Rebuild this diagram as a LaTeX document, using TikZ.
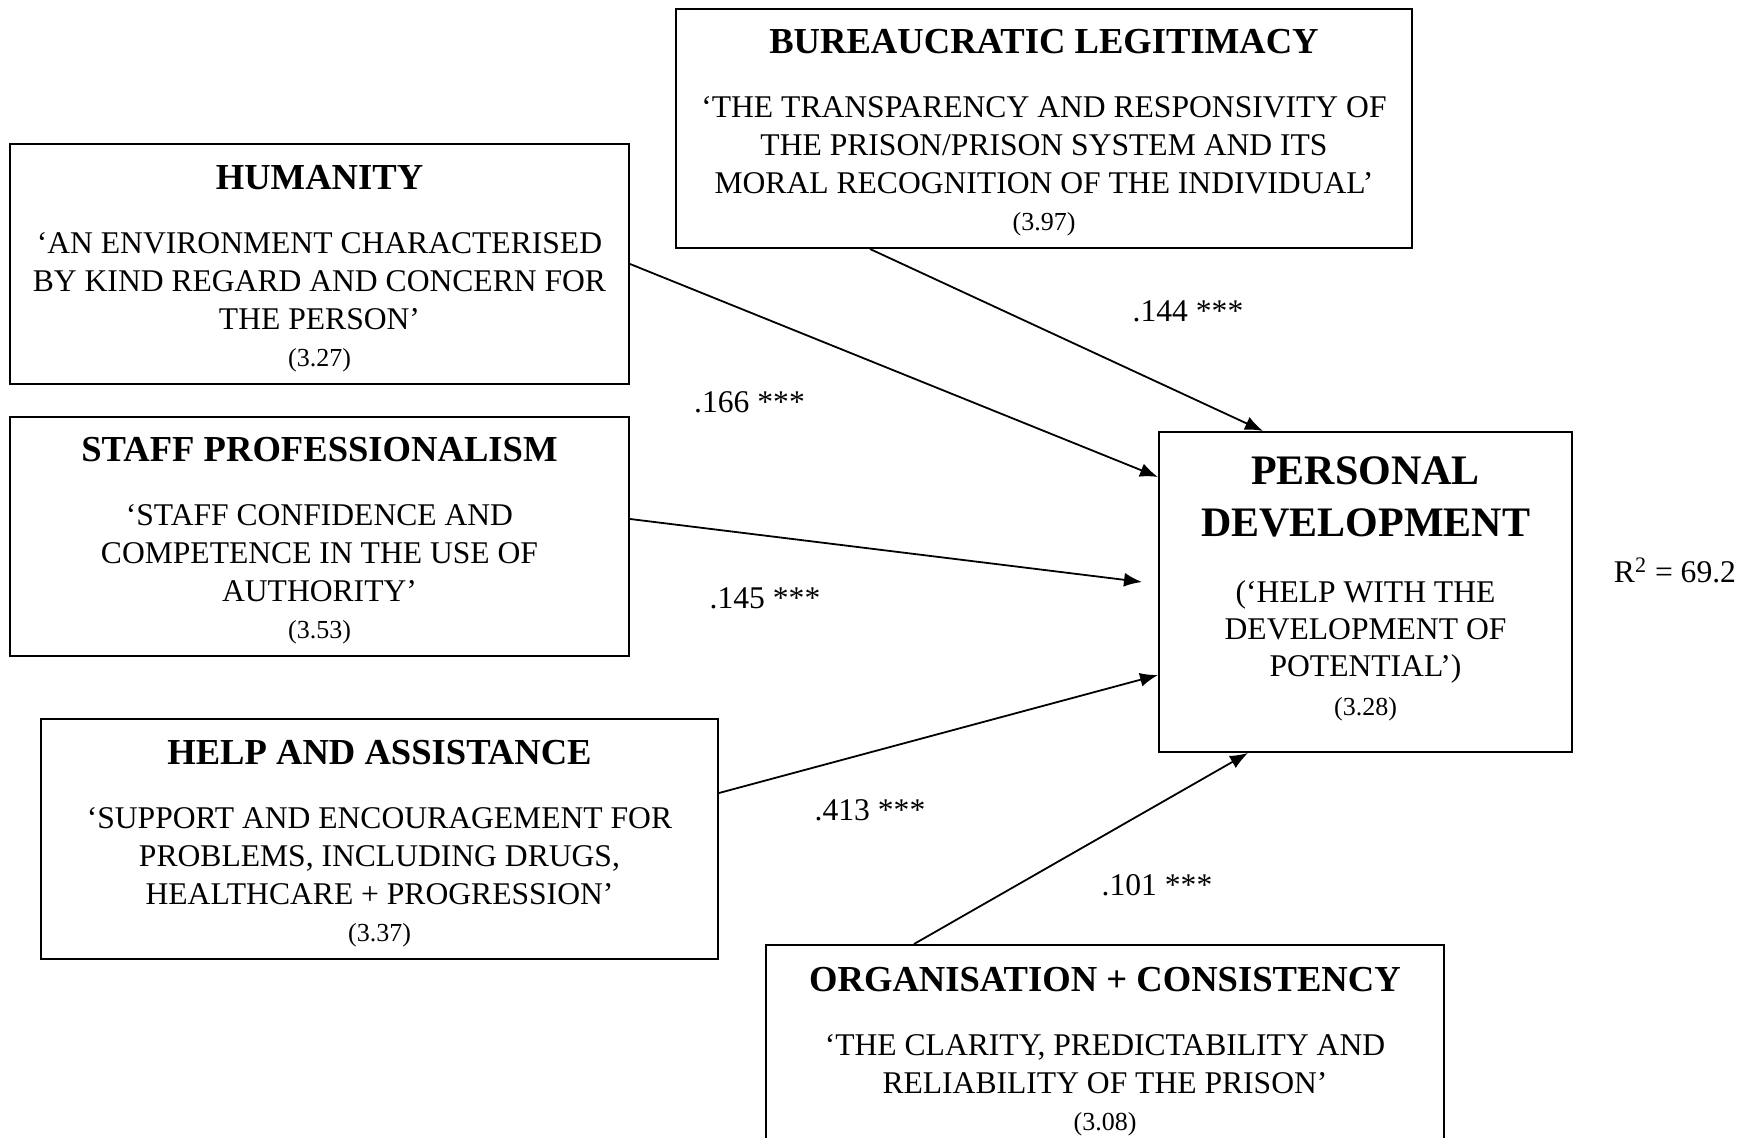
\documentclass[tikz,border=0pt]{standalone}
\usepackage{fontspec}
\setmainfont{Liberation Serif}
\usetikzlibrary{
    arrows.meta     % sized arrow tips
}
\newcommand{\px}{0.5pt}
\newcommand{\boxtitle}[1]{{\fontsize{18.3}{19}\selectfont\bfseries\rule{0pt}{16.5pt}#1}}
\newcommand{\boxmean}[1]{{\fontsize{13}{19}\selectfont #1}}
\tikzset{
    factor box/.style={draw, line width=1pt, align=center, inner sep=0pt,
        font=\fontsize{15.8}{19}\selectfont},
    outcome box/.style={factor box, font=\fontsize{15.8}{18.5}\selectfont},
    path arrow/.style={-{Latex[length=9pt, width=7pt]}, line width=0.9pt},
    coef label/.style={font=\fontsize{15.8}{18.5}\selectfont}
}

\begin{document}
\begin{tikzpicture}[x=\px, y=-\px]
        \useasboundingbox (0,0) rectangle (1754,1138);
        \clip (0,0) rectangle (1754,1138);

        % predictor boxes
        \node (hum) [factor box, minimum width=619*\px, minimum height=240*\px] at (319.5,264) {
            \boxtitle{HUMANITY}\\[13pt]
            `AN ENVIRONMENT CHARACTERISED\\
            BY KIND REGARD AND CONCERN FOR\\
            THE PERSON'\\[-0.5pt]
            \boxmean{(3.27)}};
        \node (staff) [factor box, minimum width=619*\px, minimum height=239*\px] at (319.5,536.5) {
            \boxtitle{STAFF PROFESSIONALISM}\\[13pt]
            `STAFF CONFIDENCE AND\\
            COMPETENCE IN THE USE OF\\
            AUTHORITY'\\[-0.5pt]
            \boxmean{(3.53)}};
        \node (help) [factor box, minimum width=677*\px, minimum height=240*\px] at (379.5,839) {
            \boxtitle{HELP AND ASSISTANCE}\\[13pt]
            `SUPPORT AND ENCOURAGEMENT FOR\\
            PROBLEMS, INCLUDING DRUGS,\\
            HEALTHCARE + PROGRESSION'\\[-0.5pt]
            \boxmean{(3.37)}};
        \node (bur) [factor box, minimum width=736*\px, minimum height=239*\px] at (1044,128.5) {
            \boxtitle{BUREAUCRATIC LEGITIMACY}\\[13pt]
            `THE TRANSPARENCY AND RESPONSIVITY OF\\
            THE PRISON/PRISON SYSTEM AND ITS\\
            MORAL RECOGNITION OF THE INDIVIDUAL'\\[-0.5pt]
            \boxmean{(3.97)}};
        \node (org) [factor box, minimum width=678*\px, minimum height=204*\px] at (1105,1047) {
            \boxtitle{ORGANISATION + CONSISTENCY}\\[13pt]
            `THE CLARITY, PREDICTABILITY AND\\
            RELIABILITY OF THE PRISON'\\[-0.5pt]
            \boxmean{(3.08)}};

        % outcome box
        \node (pd) [outcome box, minimum width=413*\px, minimum height=320*\px] at (1365.5,592) {
            {\fontsize{21}{18.5}\selectfont\bfseries PERSONAL}\\[7.5pt]
            {\fontsize{21}{18.5}\selectfont\bfseries DEVELOPMENT}\\[14.5pt]
            (`HELP WITH THE\\
            DEVELOPMENT OF\\
            POTENTIAL')\\[1pt]
            \boxmean{(3.28)\rule[-6.3pt]{0pt}{0pt}}};
        \node (rsq) [coef label] at (1675,570.5) {R\textsuperscript{2} = 69.2};

        % paths
        \coordinate (stafftip) at ([xshift=-8pt, yshift=5pt]pd.west);
        \draw[path arrow] ([xshift=97.5pt]bur.south west) -- ([xshift=52.5pt]pd.north west);
        \draw[path arrow] ([yshift=-60.5pt]hum.north east) -- ([yshift=-23pt]pd.north west);
        \draw[path arrow] ([yshift=-51.5pt]staff.north east) -- (stafftip);
        \draw[path arrow] ([yshift=-37.5pt]help.north east) -- ([yshift=39pt]pd.south west);
        \draw[path arrow] ([xshift=74.5pt]org.north west) -- ([xshift=45pt]pd.south west);

        % path coefficients
        \node (c144) [coef label] at (1188,311) {.144 ***};
        \node (c166) [coef label] at (749.5,402.5) {.166 ***};
        \node (c145) [coef label] at (765,598) {.145 ***};
        \node (c413) [coef label] at (870,810) {.413 ***};
        \node (c101) [coef label] at (1157,885) {.101 ***};
    \end{tikzpicture}
\end{document}
